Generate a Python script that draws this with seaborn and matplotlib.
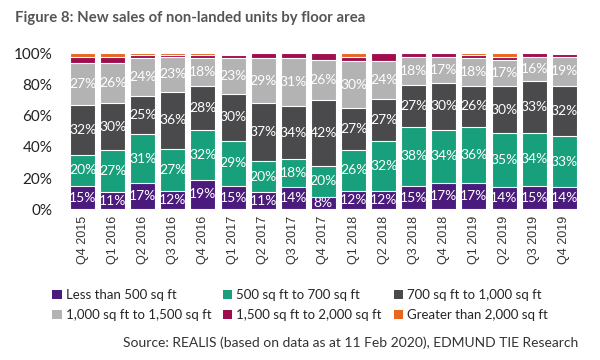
import numpy as np
import pandas as pd
import matplotlib
matplotlib.use("Agg")
import matplotlib.pyplot as plt
import seaborn as sns
from matplotlib.patches import Patch
from matplotlib.ticker import PercentFormatter

quarters = ["Q4 2015", "Q1 2016", "Q2 2016", "Q3 2016", "Q4 2016", "Q1 2017",
            "Q2 2017", "Q3 2017", "Q4 2017", "Q1 2018", "Q2 2018", "Q3 2018",
            "Q4 2018", "Q1 2019", "Q2 2019", "Q3 2019", "Q4 2019"]

# shares in % per floor-area band
less_500 = [15, 11, 17, 12, 19, 15, 11, 14, 8, 12, 12, 15, 17, 17, 14, 15, 14]
sq_500_700 = [20, 27, 31, 27, 32, 29, 20, 18, 20, 26, 32, 38, 34, 36, 35, 34, 33]
sq_700_1000 = [32, 30, 25, 36, 28, 30, 37, 34, 42, 27, 27, 27, 30, 26, 30, 33, 32]
sq_1000_1500 = [27, 26, 24, 23, 18, 23, 29, 31, 26, 30, 24, 18, 17, 18, 17, 16, 19]
sq_1500_2000 = [4, 4, 2, 1, 2, 2, 3, 3, 4, 3, 5, 2, 2, 2, 2, 2, 1.5]
over_2000 = [2, 2, 1, 1, 1, 0.5, 0, 0, 0, 2, 0, 0, 0, 1, 2, 0, 0.5]

series_names = ["Less than 500 sq ft", "500 sq ft to 700 sq ft", "700 sq ft to 1,000 sq ft",
                "1,000 sq ft to 1,500 sq ft", "1,500 sq ft to 2,000 sq ft", "Greater than 2,000 sq ft"]
colors = ["#4b1a7d", "#17a07b", "#4a4a4c", "#b3b3b3", "#a00d4f", "#e8661e"]
labelled = 4  # only the first four bands carry value labels

values = np.array([less_500, sq_500_700, sq_700_1000, sq_1000_1500, sq_1500_2000, over_2000], dtype=float)
cum = values.cumsum(axis=0)

sns.set_theme(style="white")
plt.rcParams["font.family"] = ["Lato", "DejaVu Sans"]

fig = plt.figure(figsize=(6, 3.6), dpi=100)
ax = fig.add_axes([0.1125, 0.4186, 0.853, 0.433])

# draw cumulative totals from the top band down so each one overlays the next
for i in range(len(series_names) - 1, -1, -1):
    df = pd.DataFrame({"quarter": quarters, "value": cum[i]})
    sns.barplot(data=df, x="quarter", y="value", color=colors[i], saturation=1,
                width=0.83, edgecolor="white", linewidth=0.8, ax=ax)

for i in range(labelled):
    for j, q in enumerate(quarters):
        mid = cum[i, j] - values[i, j] / 2
        ax.text(j, mid, f"{values[i, j]:.0f}%", ha="center", va="center",
                color="white", fontsize=10)

ax.set_ylim(0, 100)
ax.set_xlim(-0.5, len(quarters) - 0.5)
ax.yaxis.set_major_formatter(PercentFormatter(decimals=0))
ax.set_yticks([0, 20, 40, 60, 80, 100])
ax.set_xlabel("")
ax.set_ylabel("")
sns.despine(ax=ax, left=True, bottom=True)
ax.tick_params(axis="y", labelsize=11, pad=11, length=0, labelcolor="#222222")
ax.tick_params(axis="x", labelsize=9, rotation=90, length=0, pad=5, labelcolor="#333333")
for t in ax.get_xticklabels():
    t.set_fontfamily(["Liberation Sans", "DejaVu Sans"])

fig.text(0.025, 0.95, "Figure 8: New sales of non-landed units by floor area",
         fontsize=10.7, fontweight="bold", color="#555555", va="center")

# legend fills column by column, so reorder to read row by row
order = [0, 3, 1, 4, 2, 5]
handles = [Patch(facecolor=colors[k], edgecolor="none", label=series_names[k]) for k in order]
fig.legend(handles=handles, ncol=3, loc="center", bbox_to_anchor=(0.5, 0.152),
           frameon=False, fontsize=9.5, handlelength=0.7, handleheight=0.7,
           handletextpad=0.3, columnspacing=0.9, labelspacing=0.6)

fig.text(0.963, 0.047, "Source: REALIS (based on data as at 11 Feb 2020), EDMUND TIE Research",
         ha="right", va="center", fontsize=10, color="#333333")

fig.savefig("out.png", dpi=100)
